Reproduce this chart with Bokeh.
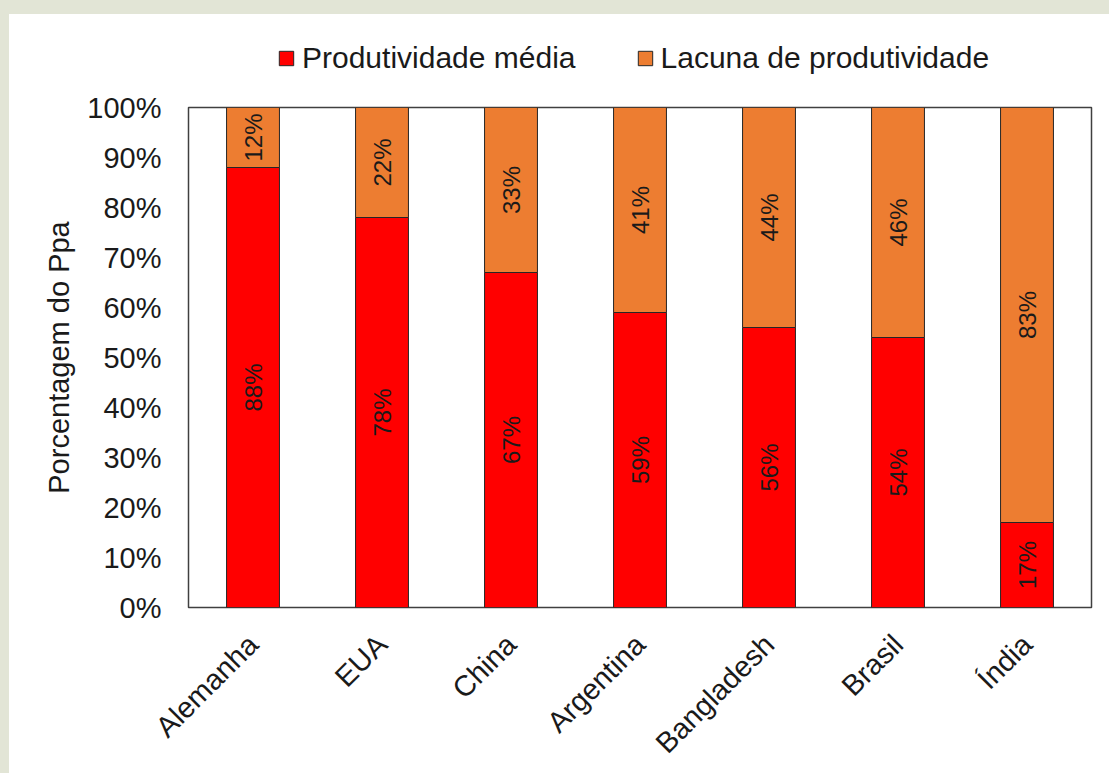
import math
import numpy as np
from bokeh.plotting import figure
from bokeh.layouts import column
from bokeh.models import (ColumnDataSource, FactorRange, Range1d, Legend, LegendItem,
                          PrintfTickFormatter, FixedTicker, LabelSet)
from bokeh.core.properties import value
from bokeh.embed import file_html
from bokeh.resources import INLINE

# Data: share of attainable yield (Ppa) by country
paises = ["Alemanha", "EUA", "China", "Argentina", "Bangladesh", "Brasil", "Índia"]
produtividade_media = [88, 78, 67, 59, 56, 54, 17]
lacuna_produtividade = [12, 22, 33, 41, 44, 46, 83]
y_ticks = [0, 10, 20, 30, 40, 50, 60, 70, 80, 90, 100]
series_labels = ["Produtividade média", "Lacuna de produtividade"]

FONT = "Liberation Sans"
RED = "#FF0000"
ORANGE = "#ED7D31"
EDGE = "#262626"
TXT = "#1a1a1a"
FS = "29px"

src = ColumnDataSource(dict(
    pais=paises,
    media=produtividade_media,
    lacuna=lacuna_produtividade,
    media_mid=[m / 2 for m in produtividade_media],
    lacuna_mid=[m + l / 2 for m, l in zip(produtividade_media, lacuna_produtividade)],
    media_txt=[f"{m}%" for m in produtividade_media],
    lacuna_txt=[f"{l}%" for l in lacuna_produtividade],
))

# ---- legend strip on top ----
leg = figure(
    x_range=Range1d(0, 1), y_range=Range1d(0, 1),
    width=1100, height=73, output_backend="svg", toolbar_location=None,
    min_border=0, frame_align=False,
)
leg.axis.visible = False
leg.grid.visible = False
leg.outline_line_color = None
leg.background_fill_color = "white"
leg.border_fill_color = "white"
# swatch-only renderers (no visible marks), used just for the legend keys
swatch_src = ColumnDataSource(dict(x=np.array([np.nan]), y=np.array([np.nan])))
swatches = [
    leg.rect(x="x", y="y", width=0.1, height=0.1, source=swatch_src,
             fill_color=c, line_color=EDGE, line_width=1)
    for c in (RED, ORANGE)
]
legend = Legend(
    items=[LegendItem(label=lbl, renderers=[r]) for lbl, r in zip(series_labels, swatches)],
    orientation="horizontal", location=(268, 12),
    glyph_width=18, glyph_height=18, label_standoff=7, spacing=60,
    label_text_font=FONT, label_text_font_size="30px", label_text_color=TXT,
    background_fill_alpha=0, border_line_color=None, padding=0, margin=0,
)
leg.add_layout(legend, "center")

# ---- main chart ----
p = figure(
    x_range=FactorRange(*paises, range_padding=0),
    y_range=Range1d(0, 100),
    width=1100, height=686,
    output_backend="svg", toolbar_location=None,
    min_border_left=179, min_border_right=18,
    min_border_top=20, min_border_bottom=163,
    frame_align=False,
)
p.background_fill_color = "white"
p.border_fill_color = "white"
p.outline_line_color = "#404040"
p.outline_line_width = 1.5
p.xgrid.visible = False
p.ygrid.visible = False

p.vbar_stack(
    ["media", "lacuna"], x="pais", width=0.41, source=src,
    color=[RED, ORANGE], line_color=EDGE, line_width=1,
)

# Value labels, rotated inside each segment
for ycol, tcol in (("media_mid", "media_txt"), ("lacuna_mid", "lacuna_txt")):
    p.add_layout(LabelSet(
        x="pais", y=ycol, text=tcol, source=src, angle=math.pi / 2,
        text_align="center", text_baseline="middle",
        text_font=value(FONT), text_font_size="24px", text_color=TXT,
    ))

# Axes
p.yaxis.ticker = FixedTicker(ticks=y_ticks)
p.yaxis.formatter = PrintfTickFormatter(format="%d%%")
p.yaxis.axis_label = "Porcentagem do Ppa"
p.yaxis.axis_label_text_font = FONT
p.yaxis.axis_label_text_font_style = "normal"
p.yaxis.axis_label_text_font_size = FS
p.yaxis.axis_label_text_color = TXT
p.yaxis.axis_label_standoff = 9
p.yaxis.major_label_standoff = 27
p.xaxis.major_label_orientation = math.pi / 4
p.xaxis.major_label_standoff = 32
for ax in (p.xaxis, p.yaxis):
    ax.axis_line_color = None
    ax.major_tick_line_color = None
    ax.major_tick_out = 0
    ax.major_tick_in = 0
    ax.minor_tick_line_color = None
    ax.minor_tick_out = 0
    ax.major_label_text_font = FONT
    ax.major_label_text_font_size = FS
    ax.major_label_text_color = TXT

layout = column(leg, p, spacing=0, styles={"background-color": "white"})

html = file_html(layout, INLINE)
page_style = (
    "<style>html,body{margin:0!important;background:#e2e5d6!important;}"
    "body{padding:14px 0 0 9px!important;box-sizing:border-box;}</style>"
)
html = html.replace("</head>", page_style + "</head>", 1)
open("out.html", "w").write(html)
